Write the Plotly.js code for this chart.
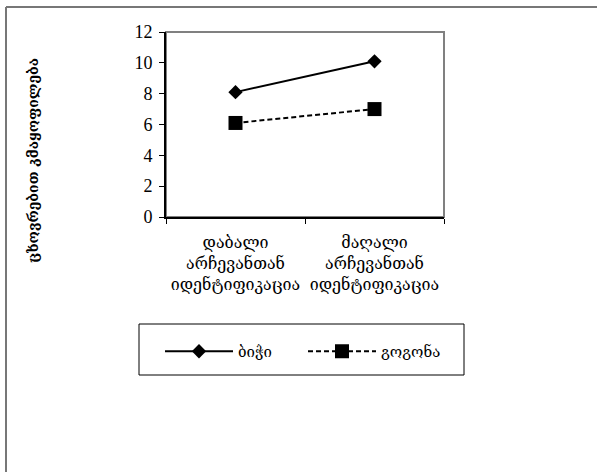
<!DOCTYPE html>
<html><head><meta charset="utf-8">
<script src="https://cdn.plot.ly/plotly-3.0.1.min.js"></script>
<style>html,body{margin:0;padding:0;background:#fff}#chart{width:597px;height:472px}</style>
</head><body><div id="chart"></div>
<script>
const categories = ["დაბალი<br>არჩევანთან<br>იდენტიფიკაცია", "მაღალი<br>არჩევანთან<br>იდენტიფიკაცია"];
const seriesNames = ["ბიჭი", "გოგონა"];
const boyValues = [8.1, 10.1];
const girlValues = [6.1, 7.0];
const yTicks = [0, 2, 4, 6, 8, 10, 12];
const yTitle = "ცხოვრებით კმაყოფილება";

const W = 597, H = 472;
const L = 166, R = 444, T = 32, B = 217;
const pw = R - L, ph = B - T;
const px = x => (x - L) / pw;
const py = y => (B - y) / ph;
const geo = "DejaVu Serif, serif";
const num = "Liberation Serif, Times New Roman, serif";

const traces = [
  {x: categories, y: boyValues, name: seriesNames[0], type: "scatter", mode: "lines+markers",
   line: {color: "#000", width: 2}, marker: {symbol: "diamond", size: 11, color: "#000"}},
  {x: categories, y: girlValues, name: seriesNames[1], type: "scatter", mode: "lines+markers",
   line: {color: "#000", width: 2, dash: "5px,3px"}, marker: {symbol: "square", size: 14, color: "#000"}}
];

const layout = {
  width: W, height: H,
  margin: {l: L, r: W - R, t: T, b: H - B, pad: 0},
  paper_bgcolor: "#fff", plot_bgcolor: "#fff",
  showlegend: true,
  legend: {orientation: "h", x: px(160), y: py(335), xanchor: "left", yanchor: "top",
    font: {family: geo, size: 15, color: "#000"}, bgcolor: "rgba(0,0,0,0)", borderwidth: 0,
    itemwidth: 68, entrywidth: 60, entrywidthmode: "pixels"},
  xaxis: {type: "category", range: [-0.5, 1.5], tickson: "boundaries", ticks: "outside", ticklen: 5,
    tickcolor: "#000", tickwidth: 1, showline: true, linecolor: "#000", linewidth: 2, ticklabelstandoff: 10,
    showgrid: false, zeroline: false, tickfont: {family: geo, size: 16, color: "#000"}, fixedrange: true},
  yaxis: {range: [0, 12], tickvals: yTicks, ticktext: yTicks.map(String), ticks: "outside", ticklen: 5,
    tickcolor: "#000", tickwidth: 1, showline: true, linecolor: "#000", linewidth: 2, ticklabelstandoff: 3,
    showgrid: false, zeroline: false, tickfont: {family: num, size: 18, color: "#000"}, fixedrange: true},
  shapes: [
    {type: "rect", xref: "paper", yref: "paper", x0: 0, x1: 1, y0: 0, y1: 1,
     line: {color: "#808080", width: 2}, layer: "below"},
    {type: "rect", xref: "paper", yref: "paper", x0: px(139), x1: px(464), y0: py(324), y1: py(375),
     line: {color: "#000", width: 1}, layer: "above"},
    {type: "line", xref: "paper", yref: "paper", x0: px(6), x1: px(6), y0: py(7), y1: py(480),
     line: {color: "#777", width: 2}},
    {type: "line", xref: "paper", yref: "paper", x0: px(6), x1: px(600), y0: py(7), y1: py(7),
     line: {color: "#777", width: 2}}
  ],
  annotations: [
    {text: yTitle, xref: "paper", yref: "paper", x: px(33), y: py(161), textangle: -90,
     showarrow: false, xanchor: "center", yanchor: "middle",
     font: {family: geo, size: 14, color: "#000", weight: "bold"}}
  ]
};
Plotly.newPlot("chart", traces, layout, {displayModeBar: false, staticPlot: true});
</script></body></html>
